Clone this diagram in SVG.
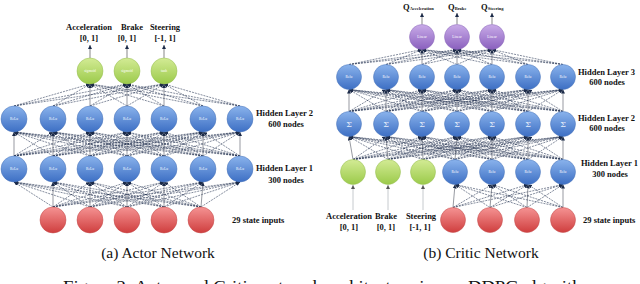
<svg xmlns="http://www.w3.org/2000/svg" width="640" height="284" viewBox="0 0 640 284">
<defs>
<linearGradient id="gBlue" x1="0" y1="0" x2="0" y2="1"><stop offset="0" stop-color="#8ab3ec"/><stop offset="1" stop-color="#3d6fc4"/></linearGradient>
<linearGradient id="gGreen" x1="0" y1="0" x2="0" y2="1"><stop offset="0" stop-color="#d3eb95"/><stop offset="1" stop-color="#9bca4a"/></linearGradient>
<linearGradient id="gRed" x1="0" y1="0" x2="0" y2="1"><stop offset="0" stop-color="#f59393"/><stop offset="1" stop-color="#cf3e3e"/></linearGradient>
<linearGradient id="gPurple" x1="0" y1="0" x2="0" y2="1"><stop offset="0" stop-color="#c9abe8"/><stop offset="1" stop-color="#8a60be"/></linearGradient>
<marker id="ah" viewBox="0 0 6 6" refX="6" refY="3" markerWidth="4" markerHeight="4" markerUnits="userSpaceOnUse" orient="auto"><path d="M0 0L6 3L0 6z" fill="#1b2a48"/></marker>
<marker id="ahg" viewBox="0 0 6 6" refX="6" refY="3" markerWidth="4" markerHeight="4" markerUnits="userSpaceOnUse" orient="auto"><path d="M0 0L6 3L0 6z" fill="#555"/></marker>
<style>
.blue{fill:url(#gBlue);stroke:#4a74b8;stroke-width:0.5}
.green{fill:url(#gGreen);stroke:#94bd50;stroke-width:0.5}
.red{fill:url(#gRed);stroke:#c24a4a;stroke-width:0.5}
.purple{fill:url(#gPurple);stroke:#8a68b8;stroke-width:0.5}
.nl{font-family:"Liberation Serif",serif;font-size:3.6px;fill:#ffffff;text-anchor:middle}
.sig{font-family:"DejaVu Serif",serif;font-size:8px;fill:#e6eefb;text-anchor:middle}
.lb{font-family:"Liberation Serif",serif;font-weight:bold;font-size:8.5px;fill:#111}
.mid{text-anchor:middle}
.sub{font-size:4.5px}
.cap{font-family:"Liberation Serif",serif;font-size:15.5px;fill:#111;text-anchor:middle}
.fig{font-family:"Liberation Serif",serif;font-size:17px;fill:#111}
#connectors line{stroke:#1f2e4d;stroke-width:0.55;stroke-dasharray:2 1;marker-end:url(#ah)}
#connectors line.v{stroke:#6a6f78;stroke-width:0.7;stroke-dasharray:none}
#connectors line.io{stroke:#555;stroke-width:0.7;stroke-dasharray:none}
#connectors line.ig{stroke:#b8bcc2;stroke-width:0.8;stroke-dasharray:none;marker-end:url(#ahg)}
</style>
</defs>
<rect width="640" height="284" fill="#ffffff"/>

<g id="connectors">
<!-- Actor: inputs to hidden layer 1 -->
<line x1="53" y1="207" x2="14" y2="182"/><line class="v" x1="53" y1="207" x2="53" y2="182"/><line x1="53" y1="207" x2="90" y2="182"/><line x1="53" y1="207" x2="127" y2="182"/><line x1="53" y1="207" x2="164" y2="182"/><line x1="53" y1="207" x2="203" y2="182"/><line x1="53" y1="207" x2="240" y2="182"/>
<line x1="90" y1="207" x2="14" y2="182"/><line x1="90" y1="207" x2="53" y2="182"/><line class="v" x1="90" y1="207" x2="90" y2="182"/><line x1="90" y1="207" x2="127" y2="182"/><line x1="90" y1="207" x2="164" y2="182"/><line x1="90" y1="207" x2="203" y2="182"/><line x1="90" y1="207" x2="240" y2="182"/>
<line x1="127" y1="207" x2="14" y2="182"/><line x1="127" y1="207" x2="53" y2="182"/><line x1="127" y1="207" x2="90" y2="182"/><line class="v" x1="127" y1="207" x2="127" y2="182"/><line x1="127" y1="207" x2="164" y2="182"/><line x1="127" y1="207" x2="203" y2="182"/><line x1="127" y1="207" x2="240" y2="182"/>
<line x1="164" y1="207" x2="14" y2="182"/><line x1="164" y1="207" x2="53" y2="182"/><line x1="164" y1="207" x2="90" y2="182"/><line x1="164" y1="207" x2="127" y2="182"/><line class="v" x1="164" y1="207" x2="164" y2="182"/><line x1="164" y1="207" x2="203" y2="182"/><line x1="164" y1="207" x2="240" y2="182"/>
<line x1="201" y1="207" x2="14" y2="182"/><line x1="201" y1="207" x2="53" y2="182"/><line x1="201" y1="207" x2="90" y2="182"/><line x1="201" y1="207" x2="127" y2="182"/><line x1="201" y1="207" x2="164" y2="182"/><line class="v" x1="201" y1="207" x2="203" y2="182"/><line x1="201" y1="207" x2="240" y2="182"/>
<!-- Actor: hidden 1 to hidden 2 -->
<line class="v" x1="14" y1="156" x2="14" y2="132"/><line x1="14" y1="156" x2="53" y2="132"/><line x1="14" y1="156" x2="90" y2="132"/><line x1="14" y1="156" x2="127" y2="132"/><line x1="14" y1="156" x2="164" y2="132"/><line x1="14" y1="156" x2="203" y2="132"/><line x1="14" y1="156" x2="240" y2="132"/>
<line x1="53" y1="156" x2="14" y2="132"/><line class="v" x1="53" y1="156" x2="53" y2="132"/><line x1="53" y1="156" x2="90" y2="132"/><line x1="53" y1="156" x2="127" y2="132"/><line x1="53" y1="156" x2="164" y2="132"/><line x1="53" y1="156" x2="203" y2="132"/><line x1="53" y1="156" x2="240" y2="132"/>
<line x1="90" y1="156" x2="14" y2="132"/><line x1="90" y1="156" x2="53" y2="132"/><line class="v" x1="90" y1="156" x2="90" y2="132"/><line x1="90" y1="156" x2="127" y2="132"/><line x1="90" y1="156" x2="164" y2="132"/><line x1="90" y1="156" x2="203" y2="132"/><line x1="90" y1="156" x2="240" y2="132"/>
<line x1="127" y1="156" x2="14" y2="132"/><line x1="127" y1="156" x2="53" y2="132"/><line x1="127" y1="156" x2="90" y2="132"/><line class="v" x1="127" y1="156" x2="127" y2="132"/><line x1="127" y1="156" x2="164" y2="132"/><line x1="127" y1="156" x2="203" y2="132"/><line x1="127" y1="156" x2="240" y2="132"/>
<line x1="164" y1="156" x2="14" y2="132"/><line x1="164" y1="156" x2="53" y2="132"/><line x1="164" y1="156" x2="90" y2="132"/><line x1="164" y1="156" x2="127" y2="132"/><line class="v" x1="164" y1="156" x2="164" y2="132"/><line x1="164" y1="156" x2="203" y2="132"/><line x1="164" y1="156" x2="240" y2="132"/>
<line x1="203" y1="156" x2="14" y2="132"/><line x1="203" y1="156" x2="53" y2="132"/><line x1="203" y1="156" x2="90" y2="132"/><line x1="203" y1="156" x2="127" y2="132"/><line x1="203" y1="156" x2="164" y2="132"/><line class="v" x1="203" y1="156" x2="203" y2="132"/><line x1="203" y1="156" x2="240" y2="132"/>
<line x1="240" y1="156" x2="14" y2="132"/><line x1="240" y1="156" x2="53" y2="132"/><line x1="240" y1="156" x2="90" y2="132"/><line x1="240" y1="156" x2="127" y2="132"/><line x1="240" y1="156" x2="164" y2="132"/><line x1="240" y1="156" x2="203" y2="132"/><line class="v" x1="240" y1="156" x2="240" y2="132"/>
<!-- Actor: hidden 2 to outputs -->
<line x1="14" y1="106" x2="90" y2="84"/><line x1="14" y1="106" x2="127" y2="84"/><line x1="14" y1="106" x2="164" y2="84"/>
<line x1="53" y1="106" x2="90" y2="84"/><line x1="53" y1="106" x2="127" y2="84"/><line x1="53" y1="106" x2="164" y2="84"/>
<line class="v" x1="90" y1="106" x2="90" y2="84"/><line x1="90" y1="106" x2="127" y2="84"/><line x1="90" y1="106" x2="164" y2="84"/>
<line x1="127" y1="106" x2="90" y2="84"/><line class="v" x1="127" y1="106" x2="127" y2="84"/><line x1="127" y1="106" x2="164" y2="84"/>
<line x1="164" y1="106" x2="90" y2="84"/><line x1="164" y1="106" x2="127" y2="84"/><line class="v" x1="164" y1="106" x2="164" y2="84"/>
<line x1="203" y1="106" x2="90" y2="84"/><line x1="203" y1="106" x2="127" y2="84"/><line x1="203" y1="106" x2="164" y2="84"/>
<line x1="240" y1="106" x2="90" y2="84"/><line x1="240" y1="106" x2="127" y2="84"/><line x1="240" y1="106" x2="164" y2="84"/>
<!-- Actor: outputs to labels -->
<line class="io" x1="90" y1="58" x2="90" y2="45"/><line class="io" x1="127" y1="58" x2="127" y2="45"/><line class="io" x1="164" y1="58" x2="164" y2="45"/>

<!-- Critic: state inputs to hidden 1 (ReLu) -->
<line class="v" x1="453" y1="207.5" x2="455" y2="184.5"/><line x1="453" y1="207.5" x2="492" y2="184.5"/><line x1="453" y1="207.5" x2="528" y2="184.5"/><line x1="453" y1="207.5" x2="563" y2="184.5"/>
<line x1="490" y1="207.5" x2="455" y2="184.5"/><line class="v" x1="490" y1="207.5" x2="492" y2="184.5"/><line x1="490" y1="207.5" x2="528" y2="184.5"/><line x1="490" y1="207.5" x2="563" y2="184.5"/>
<line x1="527" y1="207.5" x2="455" y2="184.5"/><line x1="527" y1="207.5" x2="492" y2="184.5"/><line class="v" x1="527" y1="207.5" x2="528" y2="184.5"/><line x1="527" y1="207.5" x2="563" y2="184.5"/>
<line x1="563" y1="207.5" x2="455" y2="184.5"/><line x1="563" y1="207.5" x2="492" y2="184.5"/><line x1="563" y1="207.5" x2="528" y2="184.5"/><line class="v" x1="563" y1="207.5" x2="563" y2="184.5"/>
<!-- Critic: action labels to action nodes -->
<line class="ig" x1="353" y1="210" x2="353" y2="185"/><line class="ig" x1="388" y1="210" x2="388" y2="185"/><line class="ig" x1="423" y1="210" x2="423" y2="185"/>
<!-- Critic: hidden 1 to hidden 2 (sum) -->
<line class="v" x1="353" y1="159.5" x2="349" y2="136.5"/><line x1="353" y1="159.5" x2="386" y2="136.5"/><line x1="353" y1="159.5" x2="422" y2="136.5"/><line x1="353" y1="159.5" x2="457" y2="136.5"/><line x1="353" y1="159.5" x2="492" y2="136.5"/><line x1="353" y1="159.5" x2="528" y2="136.5"/><line x1="353" y1="159.5" x2="563" y2="136.5"/>
<line x1="388" y1="159.5" x2="349" y2="136.5"/><line class="v" x1="388" y1="159.5" x2="386" y2="136.5"/><line x1="388" y1="159.5" x2="422" y2="136.5"/><line x1="388" y1="159.5" x2="457" y2="136.5"/><line x1="388" y1="159.5" x2="492" y2="136.5"/><line x1="388" y1="159.5" x2="528" y2="136.5"/><line x1="388" y1="159.5" x2="563" y2="136.5"/>
<line x1="423" y1="159.5" x2="349" y2="136.5"/><line x1="423" y1="159.5" x2="386" y2="136.5"/><line class="v" x1="423" y1="159.5" x2="422" y2="136.5"/><line x1="423" y1="159.5" x2="457" y2="136.5"/><line x1="423" y1="159.5" x2="492" y2="136.5"/><line x1="423" y1="159.5" x2="528" y2="136.5"/><line x1="423" y1="159.5" x2="563" y2="136.5"/>
<line x1="455" y1="159.5" x2="349" y2="136.5"/><line x1="455" y1="159.5" x2="386" y2="136.5"/><line x1="455" y1="159.5" x2="422" y2="136.5"/><line class="v" x1="455" y1="159.5" x2="457" y2="136.5"/><line x1="455" y1="159.5" x2="492" y2="136.5"/><line x1="455" y1="159.5" x2="528" y2="136.5"/><line x1="455" y1="159.5" x2="563" y2="136.5"/>
<line x1="492" y1="159.5" x2="349" y2="136.5"/><line x1="492" y1="159.5" x2="386" y2="136.5"/><line x1="492" y1="159.5" x2="422" y2="136.5"/><line x1="492" y1="159.5" x2="457" y2="136.5"/><line class="v" x1="492" y1="159.5" x2="492" y2="136.5"/><line x1="492" y1="159.5" x2="528" y2="136.5"/><line x1="492" y1="159.5" x2="563" y2="136.5"/>
<line x1="528" y1="159.5" x2="349" y2="136.5"/><line x1="528" y1="159.5" x2="386" y2="136.5"/><line x1="528" y1="159.5" x2="422" y2="136.5"/><line x1="528" y1="159.5" x2="457" y2="136.5"/><line x1="528" y1="159.5" x2="492" y2="136.5"/><line class="v" x1="528" y1="159.5" x2="528" y2="136.5"/><line x1="528" y1="159.5" x2="563" y2="136.5"/>
<line x1="563" y1="159.5" x2="349" y2="136.5"/><line x1="563" y1="159.5" x2="386" y2="136.5"/><line x1="563" y1="159.5" x2="422" y2="136.5"/><line x1="563" y1="159.5" x2="457" y2="136.5"/><line x1="563" y1="159.5" x2="492" y2="136.5"/><line x1="563" y1="159.5" x2="528" y2="136.5"/><line class="v" x1="563" y1="159.5" x2="563" y2="136.5"/>
<!-- Critic: hidden 2 to hidden 3 -->
<line class="v" x1="349" y1="111.5" x2="349" y2="89.5"/><line x1="349" y1="111.5" x2="386" y2="89.5"/><line x1="349" y1="111.5" x2="422" y2="89.5"/><line x1="349" y1="111.5" x2="457" y2="89.5"/><line x1="349" y1="111.5" x2="492" y2="89.5"/><line x1="349" y1="111.5" x2="528" y2="89.5"/><line x1="349" y1="111.5" x2="563" y2="89.5"/>
<line x1="386" y1="111.5" x2="349" y2="89.5"/><line class="v" x1="386" y1="111.5" x2="386" y2="89.5"/><line x1="386" y1="111.5" x2="422" y2="89.5"/><line x1="386" y1="111.5" x2="457" y2="89.5"/><line x1="386" y1="111.5" x2="492" y2="89.5"/><line x1="386" y1="111.5" x2="528" y2="89.5"/><line x1="386" y1="111.5" x2="563" y2="89.5"/>
<line x1="422" y1="111.5" x2="349" y2="89.5"/><line x1="422" y1="111.5" x2="386" y2="89.5"/><line class="v" x1="422" y1="111.5" x2="422" y2="89.5"/><line x1="422" y1="111.5" x2="457" y2="89.5"/><line x1="422" y1="111.5" x2="492" y2="89.5"/><line x1="422" y1="111.5" x2="528" y2="89.5"/><line x1="422" y1="111.5" x2="563" y2="89.5"/>
<line x1="457" y1="111.5" x2="349" y2="89.5"/><line x1="457" y1="111.5" x2="386" y2="89.5"/><line x1="457" y1="111.5" x2="422" y2="89.5"/><line class="v" x1="457" y1="111.5" x2="457" y2="89.5"/><line x1="457" y1="111.5" x2="492" y2="89.5"/><line x1="457" y1="111.5" x2="528" y2="89.5"/><line x1="457" y1="111.5" x2="563" y2="89.5"/>
<line x1="492" y1="111.5" x2="349" y2="89.5"/><line x1="492" y1="111.5" x2="386" y2="89.5"/><line x1="492" y1="111.5" x2="422" y2="89.5"/><line x1="492" y1="111.5" x2="457" y2="89.5"/><line class="v" x1="492" y1="111.5" x2="492" y2="89.5"/><line x1="492" y1="111.5" x2="528" y2="89.5"/><line x1="492" y1="111.5" x2="563" y2="89.5"/>
<line x1="528" y1="111.5" x2="349" y2="89.5"/><line x1="528" y1="111.5" x2="386" y2="89.5"/><line x1="528" y1="111.5" x2="422" y2="89.5"/><line x1="528" y1="111.5" x2="457" y2="89.5"/><line x1="528" y1="111.5" x2="492" y2="89.5"/><line class="v" x1="528" y1="111.5" x2="528" y2="89.5"/><line x1="528" y1="111.5" x2="563" y2="89.5"/>
<line x1="563" y1="111.5" x2="349" y2="89.5"/><line x1="563" y1="111.5" x2="386" y2="89.5"/><line x1="563" y1="111.5" x2="422" y2="89.5"/><line x1="563" y1="111.5" x2="457" y2="89.5"/><line x1="563" y1="111.5" x2="492" y2="89.5"/><line x1="563" y1="111.5" x2="528" y2="89.5"/><line class="v" x1="563" y1="111.5" x2="563" y2="89.5"/>
<!-- Critic: hidden 3 to outputs -->
<line x1="349" y1="64.5" x2="422" y2="49.5"/><line x1="349" y1="64.5" x2="457" y2="49.5"/><line x1="349" y1="64.5" x2="492" y2="49.5"/>
<line x1="386" y1="64.5" x2="422" y2="49.5"/><line x1="386" y1="64.5" x2="457" y2="49.5"/><line x1="386" y1="64.5" x2="492" y2="49.5"/>
<line class="v" x1="422" y1="64.5" x2="422" y2="49.5"/><line x1="422" y1="64.5" x2="457" y2="49.5"/><line x1="422" y1="64.5" x2="492" y2="49.5"/>
<line x1="457" y1="64.5" x2="422" y2="49.5"/><line class="v" x1="457" y1="64.5" x2="457" y2="49.5"/><line x1="457" y1="64.5" x2="492" y2="49.5"/>
<line x1="492" y1="64.5" x2="422" y2="49.5"/><line x1="492" y1="64.5" x2="457" y2="49.5"/><line class="v" x1="492" y1="64.5" x2="492" y2="49.5"/>
<line x1="528" y1="64.5" x2="422" y2="49.5"/><line x1="528" y1="64.5" x2="457" y2="49.5"/><line x1="528" y1="64.5" x2="492" y2="49.5"/>
<line x1="563" y1="64.5" x2="422" y2="49.5"/><line x1="563" y1="64.5" x2="457" y2="49.5"/><line x1="563" y1="64.5" x2="492" y2="49.5"/>
<!-- Critic: outputs to Q labels -->
<line class="io" x1="422" y1="24.5" x2="422" y2="13"/><line class="io" x1="457" y1="24.5" x2="457" y2="13"/><line class="io" x1="492" y1="24.5" x2="492" y2="13"/>
</g>

<!-- ===== Actor nodes ===== -->
<g id="actor-out-1"><circle class="green" cx="90" cy="71" r="13"/><text class="nl" x="90" y="72.2">sigmoid</text></g>
<g id="actor-out-2"><circle class="green" cx="127" cy="71" r="13"/><text class="nl" x="127" y="72.2">sigmoid</text></g>
<g id="actor-out-3"><circle class="green" cx="164" cy="71" r="13"/><text class="nl" x="164" y="72.2">tanh</text></g>

<g id="actor-h2-1"><circle class="blue" cx="14" cy="119" r="13"/><text class="nl" x="14" y="120.2">ReLu</text></g>
<g id="actor-h2-2"><circle class="blue" cx="53" cy="119" r="13"/><text class="nl" x="53" y="120.2">ReLu</text></g>
<g id="actor-h2-3"><circle class="blue" cx="90" cy="119" r="13"/><text class="nl" x="90" y="120.2">ReLu</text></g>
<g id="actor-h2-4"><circle class="blue" cx="127" cy="119" r="13"/><text class="nl" x="127" y="120.2">ReLu</text></g>
<g id="actor-h2-5"><circle class="blue" cx="164" cy="119" r="13"/><text class="nl" x="164" y="120.2">ReLu</text></g>
<g id="actor-h2-6"><circle class="blue" cx="203" cy="119" r="13"/><text class="nl" x="203" y="120.2">ReLu</text></g>
<g id="actor-h2-7"><circle class="blue" cx="240" cy="119" r="13"/><text class="nl" x="240" y="120.2">ReLu</text></g>

<g id="actor-h1-1"><circle class="blue" cx="14" cy="169" r="13"/><text class="nl" x="14" y="170.2">ReLu</text></g>
<g id="actor-h1-2"><circle class="blue" cx="53" cy="169" r="13"/><text class="nl" x="53" y="170.2">ReLu</text></g>
<g id="actor-h1-3"><circle class="blue" cx="90" cy="169" r="13"/><text class="nl" x="90" y="170.2">ReLu</text></g>
<g id="actor-h1-4"><circle class="blue" cx="127" cy="169" r="13"/><text class="nl" x="127" y="170.2">ReLu</text></g>
<g id="actor-h1-5"><circle class="blue" cx="164" cy="169" r="13"/><text class="nl" x="164" y="170.2">ReLu</text></g>
<g id="actor-h1-6"><circle class="blue" cx="203" cy="169" r="13"/><text class="nl" x="203" y="170.2">ReLu</text></g>
<g id="actor-h1-7"><circle class="blue" cx="240" cy="169" r="13"/><text class="nl" x="240" y="170.2">ReLu</text></g>

<g id="actor-in-1"><circle class="red" cx="53" cy="220" r="13"/></g>
<g id="actor-in-2"><circle class="red" cx="90" cy="220" r="13"/></g>
<g id="actor-in-3"><circle class="red" cx="127" cy="220" r="13"/></g>
<g id="actor-in-4"><circle class="red" cx="164" cy="220" r="13"/></g>
<g id="actor-in-5"><circle class="red" cx="201" cy="220" r="13"/></g>

<!-- Actor labels -->
<g id="actor-labels">
<text class="lb mid" x="89" y="30">Acceleration</text>
<text class="lb mid" x="132" y="30">Brake</text>
<text class="lb mid" x="165" y="30">Steering</text>
<text class="lb mid" x="89" y="41">[0, 1]</text>
<text class="lb mid" x="127" y="41">[0, 1]</text>
<text class="lb mid" x="165" y="41">[-1, 1]</text>
<text class="lb" x="256" y="116">Hidden Layer 2</text>
<text class="lb mid" x="286" y="127">600 nodes</text>
<text class="lb" x="256" y="171">Hidden Layer 1</text>
<text class="lb mid" x="286" y="183">300 nodes</text>
<text class="lb" x="232" y="223">29 state inputs</text>
</g>

<!-- ===== Critic nodes ===== -->
<g id="critic-out-1"><circle class="purple" cx="422" cy="37" r="12.5"/><text class="nl" x="422" y="38.2">Linear</text></g>
<g id="critic-out-2"><circle class="purple" cx="457" cy="37" r="12.5"/><text class="nl" x="457" y="38.2">Linear</text></g>
<g id="critic-out-3"><circle class="purple" cx="492" cy="37" r="12.5"/><text class="nl" x="492" y="38.2">Linear</text></g>

<g id="critic-h3-1"><circle class="blue" cx="349" cy="77" r="12.5"/><text class="nl" x="349" y="78.2">Relu</text></g>
<g id="critic-h3-2"><circle class="blue" cx="386" cy="77" r="12.5"/><text class="nl" x="386" y="78.2">Relu</text></g>
<g id="critic-h3-3"><circle class="blue" cx="422" cy="77" r="12.5"/><text class="nl" x="422" y="78.2">Relu</text></g>
<g id="critic-h3-4"><circle class="blue" cx="457" cy="77" r="12.5"/><text class="nl" x="457" y="78.2">Relu</text></g>
<g id="critic-h3-5"><circle class="blue" cx="492" cy="77" r="12.5"/><text class="nl" x="492" y="78.2">Relu</text></g>
<g id="critic-h3-6"><circle class="blue" cx="528" cy="77" r="12.5"/><text class="nl" x="528" y="78.2">Relu</text></g>
<g id="critic-h3-7"><circle class="blue" cx="563" cy="77" r="12.5"/><text class="nl" x="563" y="78.2">Relu</text></g>

<g id="critic-h2-1"><circle class="blue" cx="349" cy="124" r="12.5"/><text class="sig" x="349" y="127">Σ</text></g>
<g id="critic-h2-2"><circle class="blue" cx="386" cy="124" r="12.5"/><text class="sig" x="386" y="127">Σ</text></g>
<g id="critic-h2-3"><circle class="blue" cx="422" cy="124" r="12.5"/><text class="sig" x="422" y="127">Σ</text></g>
<g id="critic-h2-4"><circle class="blue" cx="457" cy="124" r="12.5"/><text class="sig" x="457" y="127">Σ</text></g>
<g id="critic-h2-5"><circle class="blue" cx="492" cy="124" r="12.5"/><text class="sig" x="492" y="127">Σ</text></g>
<g id="critic-h2-6"><circle class="blue" cx="528" cy="124" r="12.5"/><text class="sig" x="528" y="127">Σ</text></g>
<g id="critic-h2-7"><circle class="blue" cx="563" cy="124" r="12.5"/><text class="sig" x="563" y="127">Σ</text></g>

<g id="critic-act-1"><circle class="green" cx="353" cy="172" r="12.5"/></g>
<g id="critic-act-2"><circle class="green" cx="388" cy="172" r="12.5"/></g>
<g id="critic-act-3"><circle class="green" cx="423" cy="172" r="12.5"/></g>
<g id="critic-h1-1"><circle class="blue" cx="455" cy="172" r="12.5"/><text class="nl" x="455" y="173.2">Relu</text></g>
<g id="critic-h1-2"><circle class="blue" cx="492" cy="172" r="12.5"/><text class="nl" x="492" y="173.2">Relu</text></g>
<g id="critic-h1-3"><circle class="blue" cx="528" cy="172" r="12.5"/><text class="nl" x="528" y="173.2">Relu</text></g>
<g id="critic-h1-4"><circle class="blue" cx="563" cy="172" r="12.5"/><text class="nl" x="563" y="173.2">Relu</text></g>

<g id="critic-in-1"><circle class="red" cx="453" cy="220" r="12.5"/></g>
<g id="critic-in-2"><circle class="red" cx="490" cy="220" r="12.5"/></g>
<g id="critic-in-3"><circle class="red" cx="527" cy="220" r="12.5"/></g>
<g id="critic-in-4"><circle class="red" cx="563" cy="220" r="12.5"/></g>

<!-- Critic labels -->
<g id="critic-labels">
<text class="lb" x="403" y="10">Q<tspan class="sub">Acceleration</tspan></text>
<text class="lb" x="448" y="10">Q<tspan class="sub">Brake</tspan></text>
<text class="lb" x="481" y="10">Q<tspan class="sub">Steering</tspan></text>
<text class="lb" x="578" y="75">Hidden Layer 3</text>
<text class="lb mid" x="607" y="85">600 nodes</text>
<text class="lb" x="578" y="121">Hidden Layer 2</text>
<text class="lb mid" x="607" y="131">600 nodes</text>
<text class="lb" x="581" y="166">Hidden Layer 1</text>
<text class="lb mid" x="610" y="177">300 nodes</text>
<text class="lb" x="583" y="223">29 state inputs</text>
<text class="lb mid" x="349" y="219">Acceleration</text>
<text class="lb mid" x="386" y="219">Brake</text>
<text class="lb mid" x="421" y="219">Steering</text>
<text class="lb mid" x="349" y="230">[0, 1]</text>
<text class="lb mid" x="386" y="230">[0, 1]</text>
<text class="lb mid" x="420" y="230">[-1, 1]</text>
</g>

<!-- Captions -->
<text class="cap" x="158" y="258">(a) Actor Network</text>
<text class="cap" x="481" y="258">(b) Critic Network</text>
<text class="fig" x="63" y="291.5" textLength="533" lengthAdjust="spacingAndGlyphs">Figure 2: Actor and Critic network architecture in our DDPG algorithm</text>
</svg>
